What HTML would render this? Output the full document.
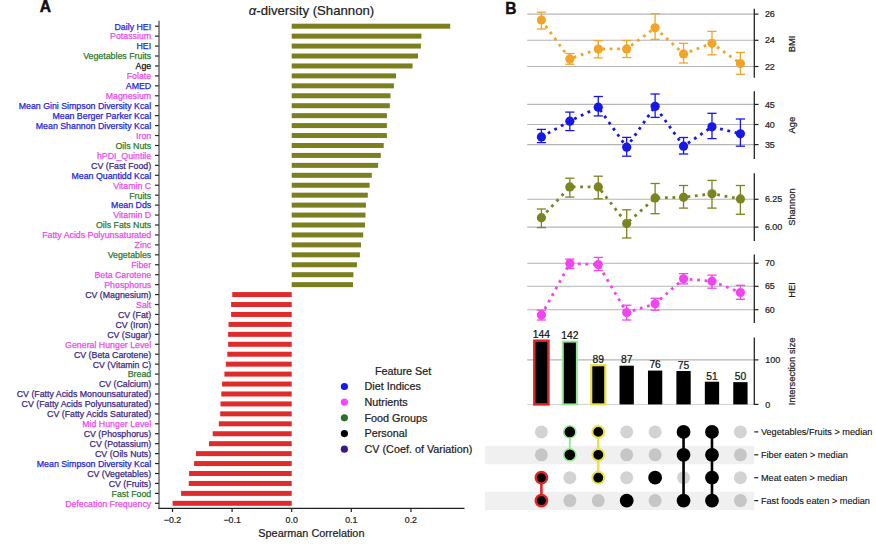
<!DOCTYPE html><html><head><meta charset="utf-8"><style>html,body{margin:0;padding:0;background:#fff;width:876px;height:546px;overflow:hidden}svg{display:block}text{font-family:"Liberation Sans", sans-serif} .lb{stroke-width:0.25px}</style></head><body>
<svg width="876" height="546" viewBox="0 0 876 546">
<text x="39.8" y="11.7" font-size="15.6" font-weight="bold" fill="#111" stroke="#111" stroke-width="0.5">A</text>
<text x="311.5" y="14.6" font-size="13.2" fill="#222" text-anchor="middle" stroke="#222" stroke-width="0.22"><tspan font-style="italic">α</tspan>-diversity (Shannon)</text>
<rect x="291.7" y="23.70" width="158.50" height="5.0" fill="#7b7f1e"/>
<line x1="155" y1="26.20" x2="159" y2="26.20" stroke="#222" stroke-width="1.2"/>
<text class="lb" x="151.2" y="29.55" font-size="8.8" fill="#2626d6" stroke="#2626d6" text-anchor="end">Daily HEI</text>
<rect x="291.7" y="33.64" width="129.70" height="5.0" fill="#7b7f1e"/>
<line x1="155" y1="36.14" x2="159" y2="36.14" stroke="#222" stroke-width="1.2"/>
<text class="lb" x="151.2" y="39.49" font-size="8.8" fill="#e84de8" stroke="#e84de8" text-anchor="end">Potassium</text>
<rect x="291.7" y="43.58" width="129.20" height="5.0" fill="#7b7f1e"/>
<line x1="155" y1="46.08" x2="159" y2="46.08" stroke="#222" stroke-width="1.2"/>
<text class="lb" x="151.2" y="49.43" font-size="8.8" fill="#2626d6" stroke="#2626d6" text-anchor="end">HEI</text>
<rect x="291.7" y="53.52" width="126.30" height="5.0" fill="#7b7f1e"/>
<line x1="155" y1="56.02" x2="159" y2="56.02" stroke="#222" stroke-width="1.2"/>
<text class="lb" x="151.2" y="59.37" font-size="8.8" fill="#2f7a2f" stroke="#2f7a2f" text-anchor="end">Vegetables Fruits</text>
<rect x="291.7" y="63.46" width="120.90" height="5.0" fill="#7b7f1e"/>
<line x1="155" y1="65.96" x2="159" y2="65.96" stroke="#222" stroke-width="1.2"/>
<text class="lb" x="151.2" y="69.31" font-size="8.8" fill="#111111" stroke="#111111" text-anchor="end">Age</text>
<rect x="291.7" y="73.40" width="104.30" height="5.0" fill="#7b7f1e"/>
<line x1="155" y1="75.90" x2="159" y2="75.90" stroke="#222" stroke-width="1.2"/>
<text class="lb" x="151.2" y="79.25" font-size="8.8" fill="#e84de8" stroke="#e84de8" text-anchor="end">Folate</text>
<rect x="291.7" y="83.34" width="102.20" height="5.0" fill="#7b7f1e"/>
<line x1="155" y1="85.84" x2="159" y2="85.84" stroke="#222" stroke-width="1.2"/>
<text class="lb" x="151.2" y="89.19" font-size="8.8" fill="#2626d6" stroke="#2626d6" text-anchor="end">AMED</text>
<rect x="291.7" y="93.28" width="98.80" height="5.0" fill="#7b7f1e"/>
<line x1="155" y1="95.78" x2="159" y2="95.78" stroke="#222" stroke-width="1.2"/>
<text class="lb" x="151.2" y="99.13" font-size="8.8" fill="#e84de8" stroke="#e84de8" text-anchor="end">Magnesium</text>
<rect x="291.7" y="103.22" width="98.10" height="5.0" fill="#7b7f1e"/>
<line x1="155" y1="105.72" x2="159" y2="105.72" stroke="#222" stroke-width="1.2"/>
<text class="lb" x="151.2" y="109.07" font-size="8.8" fill="#2626d6" stroke="#2626d6" text-anchor="end">Mean Gini Simpson Diversity Kcal</text>
<rect x="291.7" y="113.16" width="95.20" height="5.0" fill="#7b7f1e"/>
<line x1="155" y1="115.66" x2="159" y2="115.66" stroke="#222" stroke-width="1.2"/>
<text class="lb" x="151.2" y="119.01" font-size="8.8" fill="#2626d6" stroke="#2626d6" text-anchor="end">Mean Berger Parker Kcal</text>
<rect x="291.7" y="123.10" width="95.20" height="5.0" fill="#7b7f1e"/>
<line x1="155" y1="125.60" x2="159" y2="125.60" stroke="#222" stroke-width="1.2"/>
<text class="lb" x="151.2" y="128.95" font-size="8.8" fill="#2626d6" stroke="#2626d6" text-anchor="end">Mean Shannon Diversity Kcal</text>
<rect x="291.7" y="133.04" width="95.20" height="5.0" fill="#7b7f1e"/>
<line x1="155" y1="135.54" x2="159" y2="135.54" stroke="#222" stroke-width="1.2"/>
<text class="lb" x="151.2" y="138.89" font-size="8.8" fill="#e84de8" stroke="#e84de8" text-anchor="end">Iron</text>
<rect x="291.7" y="142.98" width="92.00" height="5.0" fill="#7b7f1e"/>
<line x1="155" y1="145.48" x2="159" y2="145.48" stroke="#222" stroke-width="1.2"/>
<text class="lb" x="151.2" y="148.83" font-size="8.8" fill="#2f7a2f" stroke="#2f7a2f" text-anchor="end">Oils Nuts</text>
<rect x="291.7" y="152.92" width="89.10" height="5.0" fill="#7b7f1e"/>
<line x1="155" y1="155.42" x2="159" y2="155.42" stroke="#222" stroke-width="1.2"/>
<text class="lb" x="151.2" y="158.77" font-size="8.8" fill="#e84de8" stroke="#e84de8" text-anchor="end">hPDI_Quintile</text>
<rect x="291.7" y="162.86" width="86.40" height="5.0" fill="#7b7f1e"/>
<line x1="155" y1="165.36" x2="159" y2="165.36" stroke="#222" stroke-width="1.2"/>
<text class="lb" x="151.2" y="168.71" font-size="8.8" fill="#3d2a80" stroke="#3d2a80" text-anchor="end">CV (Fast Food)</text>
<rect x="291.7" y="172.80" width="80.10" height="5.0" fill="#7b7f1e"/>
<line x1="155" y1="175.30" x2="159" y2="175.30" stroke="#222" stroke-width="1.2"/>
<text class="lb" x="151.2" y="178.65" font-size="8.8" fill="#2626d6" stroke="#2626d6" text-anchor="end">Mean Quantidd Kcal</text>
<rect x="291.7" y="182.74" width="77.90" height="5.0" fill="#7b7f1e"/>
<line x1="155" y1="185.24" x2="159" y2="185.24" stroke="#222" stroke-width="1.2"/>
<text class="lb" x="151.2" y="188.59" font-size="8.8" fill="#e84de8" stroke="#e84de8" text-anchor="end">Vitamin C</text>
<rect x="291.7" y="192.68" width="76.10" height="5.0" fill="#7b7f1e"/>
<line x1="155" y1="195.18" x2="159" y2="195.18" stroke="#222" stroke-width="1.2"/>
<text class="lb" x="151.2" y="198.53" font-size="8.8" fill="#2f7a2f" stroke="#2f7a2f" text-anchor="end">Fruits</text>
<rect x="291.7" y="202.62" width="74.20" height="5.0" fill="#7b7f1e"/>
<line x1="155" y1="205.12" x2="159" y2="205.12" stroke="#222" stroke-width="1.2"/>
<text class="lb" x="151.2" y="208.47" font-size="8.8" fill="#2626d6" stroke="#2626d6" text-anchor="end">Mean Dds</text>
<rect x="291.7" y="212.56" width="73.80" height="5.0" fill="#7b7f1e"/>
<line x1="155" y1="215.06" x2="159" y2="215.06" stroke="#222" stroke-width="1.2"/>
<text class="lb" x="151.2" y="218.41" font-size="8.8" fill="#e84de8" stroke="#e84de8" text-anchor="end">Vitamin D</text>
<rect x="291.7" y="222.50" width="73.30" height="5.0" fill="#7b7f1e"/>
<line x1="155" y1="225.00" x2="159" y2="225.00" stroke="#222" stroke-width="1.2"/>
<text class="lb" x="151.2" y="228.35" font-size="8.8" fill="#2f7a2f" stroke="#2f7a2f" text-anchor="end">Oils Fats Nuts</text>
<rect x="291.7" y="232.44" width="71.50" height="5.0" fill="#7b7f1e"/>
<line x1="155" y1="234.94" x2="159" y2="234.94" stroke="#222" stroke-width="1.2"/>
<text class="lb" x="151.2" y="238.29" font-size="8.8" fill="#e84de8" stroke="#e84de8" text-anchor="end">Fatty Acids Polyunsaturated</text>
<rect x="291.7" y="242.38" width="69.30" height="5.0" fill="#7b7f1e"/>
<line x1="155" y1="244.88" x2="159" y2="244.88" stroke="#222" stroke-width="1.2"/>
<text class="lb" x="151.2" y="248.23" font-size="8.8" fill="#e84de8" stroke="#e84de8" text-anchor="end">Zinc</text>
<rect x="291.7" y="252.32" width="68.20" height="5.0" fill="#7b7f1e"/>
<line x1="155" y1="254.82" x2="159" y2="254.82" stroke="#222" stroke-width="1.2"/>
<text class="lb" x="151.2" y="258.17" font-size="8.8" fill="#2f7a2f" stroke="#2f7a2f" text-anchor="end">Vegetables</text>
<rect x="291.7" y="262.26" width="65.20" height="5.0" fill="#7b7f1e"/>
<line x1="155" y1="264.76" x2="159" y2="264.76" stroke="#222" stroke-width="1.2"/>
<text class="lb" x="151.2" y="268.11" font-size="8.8" fill="#e84de8" stroke="#e84de8" text-anchor="end">Fiber</text>
<rect x="291.7" y="272.20" width="61.70" height="5.0" fill="#7b7f1e"/>
<line x1="155" y1="274.70" x2="159" y2="274.70" stroke="#222" stroke-width="1.2"/>
<text class="lb" x="151.2" y="278.05" font-size="8.8" fill="#e84de8" stroke="#e84de8" text-anchor="end">Beta Carotene</text>
<rect x="291.7" y="282.14" width="61.30" height="5.0" fill="#7b7f1e"/>
<line x1="155" y1="284.64" x2="159" y2="284.64" stroke="#222" stroke-width="1.2"/>
<text class="lb" x="151.2" y="287.99" font-size="8.8" fill="#e84de8" stroke="#e84de8" text-anchor="end">Phosphorus</text>
<rect x="232.25" y="292.08" width="59.45" height="5.0" fill="#df2b2b"/>
<line x1="155" y1="294.58" x2="159" y2="294.58" stroke="#222" stroke-width="1.2"/>
<text class="lb" x="151.2" y="297.93" font-size="8.8" fill="#3d2a80" stroke="#3d2a80" text-anchor="end">CV (Magnesium)</text>
<rect x="231.1" y="302.02" width="60.60" height="5.0" fill="#df2b2b"/>
<line x1="155" y1="304.52" x2="159" y2="304.52" stroke="#222" stroke-width="1.2"/>
<text class="lb" x="151.2" y="307.87" font-size="8.8" fill="#e84de8" stroke="#e84de8" text-anchor="end">Salt</text>
<rect x="231.1" y="311.96" width="60.60" height="5.0" fill="#df2b2b"/>
<line x1="155" y1="314.46" x2="159" y2="314.46" stroke="#222" stroke-width="1.2"/>
<text class="lb" x="151.2" y="317.81" font-size="8.8" fill="#3d2a80" stroke="#3d2a80" text-anchor="end">CV (Fat)</text>
<rect x="228.5" y="321.90" width="63.20" height="5.0" fill="#df2b2b"/>
<line x1="155" y1="324.40" x2="159" y2="324.40" stroke="#222" stroke-width="1.2"/>
<text class="lb" x="151.2" y="327.75" font-size="8.8" fill="#3d2a80" stroke="#3d2a80" text-anchor="end">CV (Iron)</text>
<rect x="228.1" y="331.84" width="63.60" height="5.0" fill="#df2b2b"/>
<line x1="155" y1="334.34" x2="159" y2="334.34" stroke="#222" stroke-width="1.2"/>
<text class="lb" x="151.2" y="337.69" font-size="8.8" fill="#3d2a80" stroke="#3d2a80" text-anchor="end">CV (Sugar)</text>
<rect x="228.1" y="341.78" width="63.60" height="5.0" fill="#df2b2b"/>
<line x1="155" y1="344.28" x2="159" y2="344.28" stroke="#222" stroke-width="1.2"/>
<text class="lb" x="151.2" y="347.63" font-size="8.8" fill="#e84de8" stroke="#e84de8" text-anchor="end">General Hunger Level</text>
<rect x="227.3" y="351.72" width="64.40" height="5.0" fill="#df2b2b"/>
<line x1="155" y1="354.22" x2="159" y2="354.22" stroke="#222" stroke-width="1.2"/>
<text class="lb" x="151.2" y="357.57" font-size="8.8" fill="#3d2a80" stroke="#3d2a80" text-anchor="end">CV (Beta Carotene)</text>
<rect x="225.8" y="361.66" width="65.90" height="5.0" fill="#df2b2b"/>
<line x1="155" y1="364.16" x2="159" y2="364.16" stroke="#222" stroke-width="1.2"/>
<text class="lb" x="151.2" y="367.51" font-size="8.8" fill="#3d2a80" stroke="#3d2a80" text-anchor="end">CV (Vitamin C)</text>
<rect x="224.4" y="371.60" width="67.30" height="5.0" fill="#df2b2b"/>
<line x1="155" y1="374.10" x2="159" y2="374.10" stroke="#222" stroke-width="1.2"/>
<text class="lb" x="151.2" y="377.45" font-size="8.8" fill="#2f7a2f" stroke="#2f7a2f" text-anchor="end">Bread</text>
<rect x="222.1" y="381.54" width="69.60" height="5.0" fill="#df2b2b"/>
<line x1="155" y1="384.04" x2="159" y2="384.04" stroke="#222" stroke-width="1.2"/>
<text class="lb" x="151.2" y="387.39" font-size="8.8" fill="#3d2a80" stroke="#3d2a80" text-anchor="end">CV (Calcium)</text>
<rect x="221.3" y="391.48" width="70.40" height="5.0" fill="#df2b2b"/>
<line x1="155" y1="393.98" x2="159" y2="393.98" stroke="#222" stroke-width="1.2"/>
<text class="lb" x="151.2" y="397.33" font-size="8.8" fill="#3d2a80" stroke="#3d2a80" text-anchor="end">CV (Fatty Acids Monounsaturated)</text>
<rect x="220.5" y="401.42" width="71.20" height="5.0" fill="#df2b2b"/>
<line x1="155" y1="403.92" x2="159" y2="403.92" stroke="#222" stroke-width="1.2"/>
<text class="lb" x="151.2" y="407.27" font-size="8.8" fill="#3d2a80" stroke="#3d2a80" text-anchor="end">CV (Fatty Acids Polyunsaturated)</text>
<rect x="220.2" y="411.36" width="71.50" height="5.0" fill="#df2b2b"/>
<line x1="155" y1="413.86" x2="159" y2="413.86" stroke="#222" stroke-width="1.2"/>
<text class="lb" x="151.2" y="417.21" font-size="8.8" fill="#3d2a80" stroke="#3d2a80" text-anchor="end">CV (Fatty Acids Saturated)</text>
<rect x="218.8" y="421.30" width="72.90" height="5.0" fill="#df2b2b"/>
<line x1="155" y1="423.80" x2="159" y2="423.80" stroke="#222" stroke-width="1.2"/>
<text class="lb" x="151.2" y="427.15" font-size="8.8" fill="#e84de8" stroke="#e84de8" text-anchor="end">Mid Hunger Level</text>
<rect x="212.7" y="431.24" width="79.00" height="5.0" fill="#df2b2b"/>
<line x1="155" y1="433.74" x2="159" y2="433.74" stroke="#222" stroke-width="1.2"/>
<text class="lb" x="151.2" y="437.09" font-size="8.8" fill="#3d2a80" stroke="#3d2a80" text-anchor="end">CV (Phosphorus)</text>
<rect x="209" y="441.18" width="82.70" height="5.0" fill="#df2b2b"/>
<line x1="155" y1="443.68" x2="159" y2="443.68" stroke="#222" stroke-width="1.2"/>
<text class="lb" x="151.2" y="447.03" font-size="8.8" fill="#3d2a80" stroke="#3d2a80" text-anchor="end">CV (Potassium)</text>
<rect x="196" y="451.12" width="95.70" height="5.0" fill="#df2b2b"/>
<line x1="155" y1="453.62" x2="159" y2="453.62" stroke="#222" stroke-width="1.2"/>
<text class="lb" x="151.2" y="456.97" font-size="8.8" fill="#3d2a80" stroke="#3d2a80" text-anchor="end">CV (Oils Nuts)</text>
<rect x="194.1" y="461.06" width="97.60" height="5.0" fill="#df2b2b"/>
<line x1="155" y1="463.56" x2="159" y2="463.56" stroke="#222" stroke-width="1.2"/>
<text class="lb" x="151.2" y="466.91" font-size="8.8" fill="#2626d6" stroke="#2626d6" text-anchor="end">Mean Simpson Diversity Kcal</text>
<rect x="189.1" y="471.00" width="102.60" height="5.0" fill="#df2b2b"/>
<line x1="155" y1="473.50" x2="159" y2="473.50" stroke="#222" stroke-width="1.2"/>
<text class="lb" x="151.2" y="476.85" font-size="8.8" fill="#3d2a80" stroke="#3d2a80" text-anchor="end">CV (Vegetables)</text>
<rect x="188.8" y="480.94" width="102.90" height="5.0" fill="#df2b2b"/>
<line x1="155" y1="483.44" x2="159" y2="483.44" stroke="#222" stroke-width="1.2"/>
<text class="lb" x="151.2" y="486.79" font-size="8.8" fill="#3d2a80" stroke="#3d2a80" text-anchor="end">CV (Fruits)</text>
<rect x="181.1" y="490.88" width="110.60" height="5.0" fill="#df2b2b"/>
<line x1="155" y1="493.38" x2="159" y2="493.38" stroke="#222" stroke-width="1.2"/>
<text class="lb" x="151.2" y="496.73" font-size="8.8" fill="#2f7a2f" stroke="#2f7a2f" text-anchor="end">Fast Food</text>
<rect x="172.6" y="500.82" width="119.10" height="5.0" fill="#df2b2b"/>
<line x1="155" y1="503.32" x2="159" y2="503.32" stroke="#222" stroke-width="1.2"/>
<text class="lb" x="151.2" y="506.67" font-size="8.8" fill="#e84de8" stroke="#e84de8" text-anchor="end">Defecation Frequency</text>
<line x1="159" y1="20.8" x2="159" y2="508.9" stroke="#333" stroke-width="1.1"/>
<line x1="158.4" y1="508.3" x2="464.5" y2="508.3" stroke="#222" stroke-width="1.3"/>
<line x1="172.50" y1="508.3" x2="172.50" y2="512" stroke="#222" stroke-width="1.2"/>
<text x="172.50" y="522.9" font-size="8.8" fill="#222" text-anchor="middle" stroke="#222" stroke-width="0.22">−0.2</text>
<line x1="232.10" y1="508.3" x2="232.10" y2="512" stroke="#222" stroke-width="1.2"/>
<text x="232.10" y="522.9" font-size="8.8" fill="#222" text-anchor="middle" stroke="#222" stroke-width="0.22">−0.1</text>
<line x1="291.70" y1="508.3" x2="291.70" y2="512" stroke="#222" stroke-width="1.2"/>
<text x="291.70" y="522.9" font-size="8.8" fill="#222" text-anchor="middle" stroke="#222" stroke-width="0.22">0.0</text>
<line x1="351.30" y1="508.3" x2="351.30" y2="512" stroke="#222" stroke-width="1.2"/>
<text x="351.30" y="522.9" font-size="8.8" fill="#222" text-anchor="middle" stroke="#222" stroke-width="0.22">0.1</text>
<line x1="410.90" y1="508.3" x2="410.90" y2="512" stroke="#222" stroke-width="1.2"/>
<text x="410.90" y="522.9" font-size="8.8" fill="#222" text-anchor="middle" stroke="#222" stroke-width="0.22">0.2</text>
<text x="311.4" y="536.9" font-size="10.85" fill="#222" text-anchor="middle" stroke="#222" stroke-width="0.22">Spearman Correlation</text>
<text x="374.9" y="375" font-size="10.8" fill="#222" stroke="#222" stroke-width="0.22">Feature Set</text>
<circle cx="344.4" cy="386.50" r="3.6" fill="#1a1aee"/>
<text x="364.5" y="390.40" font-size="10.8" fill="#222" stroke="#222" stroke-width="0.22">Diet Indices</text>
<circle cx="344.4" cy="402.18" r="3.6" fill="#ff44ff"/>
<text x="364.5" y="406.08" font-size="10.8" fill="#222" stroke="#222" stroke-width="0.22">Nutrients</text>
<circle cx="344.4" cy="417.86" r="3.6" fill="#2e6e2a"/>
<text x="364.5" y="421.76" font-size="10.8" fill="#222" stroke="#222" stroke-width="0.22">Food Groups</text>
<circle cx="344.4" cy="433.54" r="3.6" fill="#000"/>
<text x="364.5" y="437.44" font-size="10.8" fill="#222" stroke="#222" stroke-width="0.22">Personal</text>
<circle cx="344.4" cy="449.22" r="3.6" fill="#3a1a82"/>
<text x="364.5" y="453.12" font-size="10.8" fill="#222" stroke="#222" stroke-width="0.22">CV (Coef. of Variation)</text>
<text x="505.3" y="13.8" font-size="15.6" font-weight="bold" fill="#111" stroke="#111" stroke-width="0.4">B</text>
<line x1="527.2" y1="14.1" x2="754.3" y2="14.1" stroke="#b5b5b5" stroke-width="1.1"/>
<line x1="754.3" y1="14.1" x2="758.5" y2="14.1" stroke="#222" stroke-width="1.2"/>
<text x="764.9" y="17.20" font-size="8.95" fill="#222" stroke="#222" stroke-width="0.22">26</text>
<line x1="527.2" y1="40.3" x2="754.3" y2="40.3" stroke="#b5b5b5" stroke-width="1.1"/>
<line x1="754.3" y1="40.3" x2="758.5" y2="40.3" stroke="#222" stroke-width="1.2"/>
<text x="764.9" y="43.40" font-size="8.95" fill="#222" stroke="#222" stroke-width="0.22">24</text>
<line x1="527.2" y1="66.5" x2="754.3" y2="66.5" stroke="#b5b5b5" stroke-width="1.1"/>
<line x1="754.3" y1="66.5" x2="758.5" y2="66.5" stroke="#222" stroke-width="1.2"/>
<text x="764.9" y="69.60" font-size="8.95" fill="#222" stroke="#222" stroke-width="0.22">22</text>
<line x1="754.3" y1="8.8" x2="754.3" y2="77.7" stroke="#222" stroke-width="1.3"/>
<polyline points="541.40,20.0 569.83,58.9 598.26,49.0 626.69,48.9 655.12,27.8 683.55,53.9 711.98,43.3 740.41,63.6" fill="none" stroke="#f0a52a" stroke-width="2.8" stroke-dasharray="2.8 4.7" stroke-dashoffset="0.3"/>
<line x1="541.40" y1="12.2" x2="541.40" y2="29" stroke="#f0a52a" stroke-width="1.3"/>
<line x1="536.80" y1="12.2" x2="546.00" y2="12.2" stroke="#f0a52a" stroke-width="1.3"/>
<line x1="536.80" y1="29" x2="546.00" y2="29" stroke="#f0a52a" stroke-width="1.3"/>
<circle cx="541.40" cy="20.0" r="4.6" fill="#f0a52a"/>
<line x1="569.83" y1="53.5" x2="569.83" y2="64.2" stroke="#f0a52a" stroke-width="1.3"/>
<line x1="565.23" y1="53.5" x2="574.43" y2="53.5" stroke="#f0a52a" stroke-width="1.3"/>
<line x1="565.23" y1="64.2" x2="574.43" y2="64.2" stroke="#f0a52a" stroke-width="1.3"/>
<circle cx="569.83" cy="58.9" r="4.6" fill="#f0a52a"/>
<line x1="598.26" y1="40.6" x2="598.26" y2="57.9" stroke="#f0a52a" stroke-width="1.3"/>
<line x1="593.66" y1="40.6" x2="602.86" y2="40.6" stroke="#f0a52a" stroke-width="1.3"/>
<line x1="593.66" y1="57.9" x2="602.86" y2="57.9" stroke="#f0a52a" stroke-width="1.3"/>
<circle cx="598.26" cy="49.0" r="4.6" fill="#f0a52a"/>
<line x1="626.69" y1="40.5" x2="626.69" y2="57.5" stroke="#f0a52a" stroke-width="1.3"/>
<line x1="622.09" y1="40.5" x2="631.29" y2="40.5" stroke="#f0a52a" stroke-width="1.3"/>
<line x1="622.09" y1="57.5" x2="631.29" y2="57.5" stroke="#f0a52a" stroke-width="1.3"/>
<circle cx="626.69" cy="48.9" r="4.6" fill="#f0a52a"/>
<line x1="655.12" y1="13.7" x2="655.12" y2="39.3" stroke="#f0a52a" stroke-width="1.3"/>
<line x1="650.52" y1="13.7" x2="659.72" y2="13.7" stroke="#f0a52a" stroke-width="1.3"/>
<line x1="650.52" y1="39.3" x2="659.72" y2="39.3" stroke="#f0a52a" stroke-width="1.3"/>
<circle cx="655.12" cy="27.8" r="4.6" fill="#f0a52a"/>
<line x1="683.55" y1="43.3" x2="683.55" y2="63" stroke="#f0a52a" stroke-width="1.3"/>
<line x1="678.95" y1="43.3" x2="688.15" y2="43.3" stroke="#f0a52a" stroke-width="1.3"/>
<line x1="678.95" y1="63" x2="688.15" y2="63" stroke="#f0a52a" stroke-width="1.3"/>
<circle cx="683.55" cy="53.9" r="4.6" fill="#f0a52a"/>
<line x1="711.98" y1="31.4" x2="711.98" y2="54.8" stroke="#f0a52a" stroke-width="1.3"/>
<line x1="707.38" y1="31.4" x2="716.58" y2="31.4" stroke="#f0a52a" stroke-width="1.3"/>
<line x1="707.38" y1="54.8" x2="716.58" y2="54.8" stroke="#f0a52a" stroke-width="1.3"/>
<circle cx="711.98" cy="43.3" r="4.6" fill="#f0a52a"/>
<line x1="740.41" y1="52.4" x2="740.41" y2="74.3" stroke="#f0a52a" stroke-width="1.3"/>
<line x1="735.81" y1="52.4" x2="745.01" y2="52.4" stroke="#f0a52a" stroke-width="1.3"/>
<line x1="735.81" y1="74.3" x2="745.01" y2="74.3" stroke="#f0a52a" stroke-width="1.3"/>
<circle cx="740.41" cy="63.6" r="4.6" fill="#f0a52a"/>
<text transform="translate(794.5,44) rotate(-90)" font-size="9.4" fill="#222" text-anchor="middle" stroke="#222" stroke-width="0.22">BMI</text>
<line x1="527.2" y1="104.4" x2="754.3" y2="104.4" stroke="#b5b5b5" stroke-width="1.1"/>
<line x1="754.3" y1="104.4" x2="758.5" y2="104.4" stroke="#222" stroke-width="1.2"/>
<text x="764.9" y="107.50" font-size="8.95" fill="#222" stroke="#222" stroke-width="0.22">45</text>
<line x1="527.2" y1="124.5" x2="754.3" y2="124.5" stroke="#b5b5b5" stroke-width="1.1"/>
<line x1="754.3" y1="124.5" x2="758.5" y2="124.5" stroke="#222" stroke-width="1.2"/>
<text x="764.9" y="127.60" font-size="8.95" fill="#222" stroke="#222" stroke-width="0.22">40</text>
<line x1="527.2" y1="144.6" x2="754.3" y2="144.6" stroke="#b5b5b5" stroke-width="1.1"/>
<line x1="754.3" y1="144.6" x2="758.5" y2="144.6" stroke="#222" stroke-width="1.2"/>
<text x="764.9" y="147.70" font-size="8.95" fill="#222" stroke="#222" stroke-width="0.22">35</text>
<line x1="754.3" y1="91.3" x2="754.3" y2="159.1" stroke="#222" stroke-width="1.3"/>
<polyline points="541.40,136.9 569.83,121.2 598.26,107.2 626.69,147.2 655.12,106.3 683.55,146.2 711.98,126.8 740.41,133.8" fill="none" stroke="#1717e6" stroke-width="2.8" stroke-dasharray="2.8 4.7" stroke-dashoffset="0.2"/>
<line x1="541.40" y1="129.4" x2="541.40" y2="142.6" stroke="#1717e6" stroke-width="1.3"/>
<line x1="536.80" y1="129.4" x2="546.00" y2="129.4" stroke="#1717e6" stroke-width="1.3"/>
<line x1="536.80" y1="142.6" x2="546.00" y2="142.6" stroke="#1717e6" stroke-width="1.3"/>
<circle cx="541.40" cy="136.9" r="4.6" fill="#1717e6"/>
<line x1="569.83" y1="112.1" x2="569.83" y2="130.6" stroke="#1717e6" stroke-width="1.3"/>
<line x1="565.23" y1="112.1" x2="574.43" y2="112.1" stroke="#1717e6" stroke-width="1.3"/>
<line x1="565.23" y1="130.6" x2="574.43" y2="130.6" stroke="#1717e6" stroke-width="1.3"/>
<circle cx="569.83" cy="121.2" r="4.6" fill="#1717e6"/>
<line x1="598.26" y1="96.5" x2="598.26" y2="115.9" stroke="#1717e6" stroke-width="1.3"/>
<line x1="593.66" y1="96.5" x2="602.86" y2="96.5" stroke="#1717e6" stroke-width="1.3"/>
<line x1="593.66" y1="115.9" x2="602.86" y2="115.9" stroke="#1717e6" stroke-width="1.3"/>
<circle cx="598.26" cy="107.2" r="4.6" fill="#1717e6"/>
<line x1="626.69" y1="137.4" x2="626.69" y2="156.2" stroke="#1717e6" stroke-width="1.3"/>
<line x1="622.09" y1="137.4" x2="631.29" y2="137.4" stroke="#1717e6" stroke-width="1.3"/>
<line x1="622.09" y1="156.2" x2="631.29" y2="156.2" stroke="#1717e6" stroke-width="1.3"/>
<circle cx="626.69" cy="147.2" r="4.6" fill="#1717e6"/>
<line x1="655.12" y1="94" x2="655.12" y2="117.4" stroke="#1717e6" stroke-width="1.3"/>
<line x1="650.52" y1="94" x2="659.72" y2="94" stroke="#1717e6" stroke-width="1.3"/>
<line x1="650.52" y1="117.4" x2="659.72" y2="117.4" stroke="#1717e6" stroke-width="1.3"/>
<circle cx="655.12" cy="106.3" r="4.6" fill="#1717e6"/>
<line x1="683.55" y1="137.5" x2="683.55" y2="154" stroke="#1717e6" stroke-width="1.3"/>
<line x1="678.95" y1="137.5" x2="688.15" y2="137.5" stroke="#1717e6" stroke-width="1.3"/>
<line x1="678.95" y1="154" x2="688.15" y2="154" stroke="#1717e6" stroke-width="1.3"/>
<circle cx="683.55" cy="146.2" r="4.6" fill="#1717e6"/>
<line x1="711.98" y1="113.3" x2="711.98" y2="138.6" stroke="#1717e6" stroke-width="1.3"/>
<line x1="707.38" y1="113.3" x2="716.58" y2="113.3" stroke="#1717e6" stroke-width="1.3"/>
<line x1="707.38" y1="138.6" x2="716.58" y2="138.6" stroke="#1717e6" stroke-width="1.3"/>
<circle cx="711.98" cy="126.8" r="4.6" fill="#1717e6"/>
<line x1="740.41" y1="119" x2="740.41" y2="146.2" stroke="#1717e6" stroke-width="1.3"/>
<line x1="735.81" y1="119" x2="745.01" y2="119" stroke="#1717e6" stroke-width="1.3"/>
<line x1="735.81" y1="146.2" x2="745.01" y2="146.2" stroke="#1717e6" stroke-width="1.3"/>
<circle cx="740.41" cy="133.8" r="4.6" fill="#1717e6"/>
<text transform="translate(794.5,125.2) rotate(-90)" font-size="9.4" fill="#222" text-anchor="middle" stroke="#222" stroke-width="0.22">Age</text>
<line x1="527.2" y1="199.3" x2="754.3" y2="199.3" stroke="#b5b5b5" stroke-width="1.1"/>
<line x1="754.3" y1="199.3" x2="758.5" y2="199.3" stroke="#222" stroke-width="1.2"/>
<text x="764.9" y="202.40" font-size="8.95" fill="#222" stroke="#222" stroke-width="0.22">6.25</text>
<line x1="527.2" y1="227.1" x2="754.3" y2="227.1" stroke="#b5b5b5" stroke-width="1.1"/>
<line x1="754.3" y1="227.1" x2="758.5" y2="227.1" stroke="#222" stroke-width="1.2"/>
<text x="764.9" y="230.20" font-size="8.95" fill="#222" stroke="#222" stroke-width="0.22">6.00</text>
<line x1="754.3" y1="173.2" x2="754.3" y2="241" stroke="#222" stroke-width="1.3"/>
<polyline points="541.40,217.7 569.83,186.9 598.26,186.9 626.69,223.5 655.12,197.9 683.55,197.3 711.98,193.8 740.41,198.9" fill="none" stroke="#7a8420" stroke-width="2.8" stroke-dasharray="2.8 4.7" stroke-dashoffset="0.2"/>
<line x1="541.40" y1="209" x2="541.40" y2="227.6" stroke="#7a8420" stroke-width="1.3"/>
<line x1="536.80" y1="209" x2="546.00" y2="209" stroke="#7a8420" stroke-width="1.3"/>
<line x1="536.80" y1="227.6" x2="546.00" y2="227.6" stroke="#7a8420" stroke-width="1.3"/>
<circle cx="541.40" cy="217.7" r="4.6" fill="#7a8420"/>
<line x1="569.83" y1="178.2" x2="569.83" y2="197.1" stroke="#7a8420" stroke-width="1.3"/>
<line x1="565.23" y1="178.2" x2="574.43" y2="178.2" stroke="#7a8420" stroke-width="1.3"/>
<line x1="565.23" y1="197.1" x2="574.43" y2="197.1" stroke="#7a8420" stroke-width="1.3"/>
<circle cx="569.83" cy="186.9" r="4.6" fill="#7a8420"/>
<line x1="598.26" y1="176.2" x2="598.26" y2="198.8" stroke="#7a8420" stroke-width="1.3"/>
<line x1="593.66" y1="176.2" x2="602.86" y2="176.2" stroke="#7a8420" stroke-width="1.3"/>
<line x1="593.66" y1="198.8" x2="602.86" y2="198.8" stroke="#7a8420" stroke-width="1.3"/>
<circle cx="598.26" cy="186.9" r="4.6" fill="#7a8420"/>
<line x1="626.69" y1="209.8" x2="626.69" y2="238" stroke="#7a8420" stroke-width="1.3"/>
<line x1="622.09" y1="209.8" x2="631.29" y2="209.8" stroke="#7a8420" stroke-width="1.3"/>
<line x1="622.09" y1="238" x2="631.29" y2="238" stroke="#7a8420" stroke-width="1.3"/>
<circle cx="626.69" cy="223.5" r="4.6" fill="#7a8420"/>
<line x1="655.12" y1="183.5" x2="655.12" y2="213.7" stroke="#7a8420" stroke-width="1.3"/>
<line x1="650.52" y1="183.5" x2="659.72" y2="183.5" stroke="#7a8420" stroke-width="1.3"/>
<line x1="650.52" y1="213.7" x2="659.72" y2="213.7" stroke="#7a8420" stroke-width="1.3"/>
<circle cx="655.12" cy="197.9" r="4.6" fill="#7a8420"/>
<line x1="683.55" y1="185.5" x2="683.55" y2="208.1" stroke="#7a8420" stroke-width="1.3"/>
<line x1="678.95" y1="185.5" x2="688.15" y2="185.5" stroke="#7a8420" stroke-width="1.3"/>
<line x1="678.95" y1="208.1" x2="688.15" y2="208.1" stroke="#7a8420" stroke-width="1.3"/>
<circle cx="683.55" cy="197.3" r="4.6" fill="#7a8420"/>
<line x1="711.98" y1="180.4" x2="711.98" y2="208.1" stroke="#7a8420" stroke-width="1.3"/>
<line x1="707.38" y1="180.4" x2="716.58" y2="180.4" stroke="#7a8420" stroke-width="1.3"/>
<line x1="707.38" y1="208.1" x2="716.58" y2="208.1" stroke="#7a8420" stroke-width="1.3"/>
<circle cx="711.98" cy="193.8" r="4.6" fill="#7a8420"/>
<line x1="740.41" y1="185.5" x2="740.41" y2="214.3" stroke="#7a8420" stroke-width="1.3"/>
<line x1="735.81" y1="185.5" x2="745.01" y2="185.5" stroke="#7a8420" stroke-width="1.3"/>
<line x1="735.81" y1="214.3" x2="745.01" y2="214.3" stroke="#7a8420" stroke-width="1.3"/>
<circle cx="740.41" cy="198.9" r="4.6" fill="#7a8420"/>
<text transform="translate(794.5,207.1) rotate(-90)" font-size="9.4" fill="#222" text-anchor="middle" stroke="#222" stroke-width="0.22">Shannon</text>
<line x1="527.2" y1="263.2" x2="754.3" y2="263.2" stroke="#b5b5b5" stroke-width="1.1"/>
<line x1="754.3" y1="263.2" x2="758.5" y2="263.2" stroke="#222" stroke-width="1.2"/>
<text x="764.9" y="266.30" font-size="8.95" fill="#222" stroke="#222" stroke-width="0.22">70</text>
<line x1="527.2" y1="286.3" x2="754.3" y2="286.3" stroke="#b5b5b5" stroke-width="1.1"/>
<line x1="754.3" y1="286.3" x2="758.5" y2="286.3" stroke="#222" stroke-width="1.2"/>
<text x="764.9" y="289.40" font-size="8.95" fill="#222" stroke="#222" stroke-width="0.22">65</text>
<line x1="527.2" y1="309.7" x2="754.3" y2="309.7" stroke="#b5b5b5" stroke-width="1.1"/>
<line x1="754.3" y1="309.7" x2="758.5" y2="309.7" stroke="#222" stroke-width="1.2"/>
<text x="764.9" y="312.80" font-size="8.95" fill="#222" stroke="#222" stroke-width="0.22">60</text>
<line x1="754.3" y1="254.5" x2="754.3" y2="322.9" stroke="#222" stroke-width="1.3"/>
<polyline points="541.40,315.1 569.83,263.5 598.26,264.5 626.69,312.6 655.12,303.8 683.55,278.8 711.98,281.2 740.41,292.5" fill="none" stroke="#f044f0" stroke-width="2.8" stroke-dasharray="2.8 4.7" stroke-dashoffset="0.5"/>
<line x1="541.40" y1="310.2" x2="541.40" y2="320" stroke="#f044f0" stroke-width="1.3"/>
<line x1="536.80" y1="310.2" x2="546.00" y2="310.2" stroke="#f044f0" stroke-width="1.3"/>
<line x1="536.80" y1="320" x2="546.00" y2="320" stroke="#f044f0" stroke-width="1.3"/>
<circle cx="541.40" cy="315.1" r="4.6" fill="#f044f0"/>
<line x1="569.83" y1="259.1" x2="569.83" y2="268.5" stroke="#f044f0" stroke-width="1.3"/>
<line x1="565.23" y1="259.1" x2="574.43" y2="259.1" stroke="#f044f0" stroke-width="1.3"/>
<line x1="565.23" y1="268.5" x2="574.43" y2="268.5" stroke="#f044f0" stroke-width="1.3"/>
<circle cx="569.83" cy="263.5" r="4.6" fill="#f044f0"/>
<line x1="598.26" y1="257.4" x2="598.26" y2="270.6" stroke="#f044f0" stroke-width="1.3"/>
<line x1="593.66" y1="257.4" x2="602.86" y2="257.4" stroke="#f044f0" stroke-width="1.3"/>
<line x1="593.66" y1="270.6" x2="602.86" y2="270.6" stroke="#f044f0" stroke-width="1.3"/>
<circle cx="598.26" cy="264.5" r="4.6" fill="#f044f0"/>
<line x1="626.69" y1="305.2" x2="626.69" y2="320" stroke="#f044f0" stroke-width="1.3"/>
<line x1="622.09" y1="305.2" x2="631.29" y2="305.2" stroke="#f044f0" stroke-width="1.3"/>
<line x1="622.09" y1="320" x2="631.29" y2="320" stroke="#f044f0" stroke-width="1.3"/>
<circle cx="626.69" cy="312.6" r="4.6" fill="#f044f0"/>
<line x1="655.12" y1="298.3" x2="655.12" y2="310.2" stroke="#f044f0" stroke-width="1.3"/>
<line x1="650.52" y1="298.3" x2="659.72" y2="298.3" stroke="#f044f0" stroke-width="1.3"/>
<line x1="650.52" y1="310.2" x2="659.72" y2="310.2" stroke="#f044f0" stroke-width="1.3"/>
<circle cx="655.12" cy="303.8" r="4.6" fill="#f044f0"/>
<line x1="683.55" y1="273.6" x2="683.55" y2="283.9" stroke="#f044f0" stroke-width="1.3"/>
<line x1="678.95" y1="273.6" x2="688.15" y2="273.6" stroke="#f044f0" stroke-width="1.3"/>
<line x1="678.95" y1="283.9" x2="688.15" y2="283.9" stroke="#f044f0" stroke-width="1.3"/>
<circle cx="683.55" cy="278.8" r="4.6" fill="#f044f0"/>
<line x1="711.98" y1="275.1" x2="711.98" y2="288.2" stroke="#f044f0" stroke-width="1.3"/>
<line x1="707.38" y1="275.1" x2="716.58" y2="275.1" stroke="#f044f0" stroke-width="1.3"/>
<line x1="707.38" y1="288.2" x2="716.58" y2="288.2" stroke="#f044f0" stroke-width="1.3"/>
<circle cx="711.98" cy="281.2" r="4.6" fill="#f044f0"/>
<line x1="740.41" y1="285.3" x2="740.41" y2="299.3" stroke="#f044f0" stroke-width="1.3"/>
<line x1="735.81" y1="285.3" x2="745.01" y2="285.3" stroke="#f044f0" stroke-width="1.3"/>
<line x1="735.81" y1="299.3" x2="745.01" y2="299.3" stroke="#f044f0" stroke-width="1.3"/>
<circle cx="740.41" cy="292.5" r="4.6" fill="#f044f0"/>
<text transform="translate(794.5,290) rotate(-90)" font-size="9.4" fill="#222" text-anchor="middle" stroke="#222" stroke-width="0.22">HEI</text>
<line x1="527.2" y1="359.90" x2="754.3" y2="359.90" stroke="#b5b5b5" stroke-width="1.1"/>
<line x1="527.2" y1="404.4" x2="754.3" y2="404.4" stroke="#d0d0d0" stroke-width="1"/>
<line x1="754.3" y1="404.40" x2="758.5" y2="404.40" stroke="#222" stroke-width="1.2"/>
<text x="765.2" y="407.50" font-size="8.95" fill="#222" stroke="#222" stroke-width="0.22">0</text>
<line x1="754.3" y1="359.90" x2="758.5" y2="359.90" stroke="#222" stroke-width="1.2"/>
<text x="765.2" y="363.00" font-size="8.95" fill="#222" stroke="#222" stroke-width="0.22">100</text>
<line x1="754.3" y1="337.5" x2="754.3" y2="404.9" stroke="#222" stroke-width="1.3"/>
<text transform="translate(794.5,371.3) rotate(-90)" font-size="9.4" fill="#222" text-anchor="middle" stroke="#222" stroke-width="0.22">Intersection size</text>
<rect x="534.35" y="340.72" width="14.10" height="63.68" fill="#000" stroke="#e02525" stroke-width="2.5"/>
<text x="541.40" y="338.12" font-size="10.3" fill="#111" text-anchor="middle" stroke="#111" stroke-width="0.22">144</text>
<rect x="562.78" y="341.61" width="14.10" height="62.79" fill="#000" stroke="#96ea96" stroke-width="2.0"/>
<text x="569.83" y="339.01" font-size="10.3" fill="#111" text-anchor="middle" stroke="#111" stroke-width="0.22">142</text>
<rect x="591.21" y="365.19" width="14.10" height="39.21" fill="#000" stroke="#ebe048" stroke-width="2.2"/>
<text x="598.26" y="362.59" font-size="10.3" fill="#111" text-anchor="middle" stroke="#111" stroke-width="0.22">89</text>
<rect x="619.54" y="365.68" width="14.3" height="38.72" fill="#000"/>
<text x="626.69" y="363.48" font-size="10.3" fill="#111" text-anchor="middle" stroke="#111" stroke-width="0.22">87</text>
<rect x="647.97" y="370.58" width="14.3" height="33.82" fill="#000"/>
<text x="655.12" y="368.38" font-size="10.3" fill="#111" text-anchor="middle" stroke="#111" stroke-width="0.22">76</text>
<rect x="676.40" y="371.02" width="14.3" height="33.38" fill="#000"/>
<text x="683.55" y="368.82" font-size="10.3" fill="#111" text-anchor="middle" stroke="#111" stroke-width="0.22">75</text>
<rect x="704.83" y="381.70" width="14.3" height="22.69" fill="#000"/>
<text x="711.98" y="379.50" font-size="10.3" fill="#111" text-anchor="middle" stroke="#111" stroke-width="0.22">51</text>
<rect x="733.26" y="382.15" width="14.3" height="22.25" fill="#000"/>
<text x="740.41" y="379.95" font-size="10.3" fill="#111" text-anchor="middle" stroke="#111" stroke-width="0.22">50</text>
<rect x="485" y="445.90" width="269.30" height="18.3" fill="#f0f0f0"/>
<rect x="485" y="491.70" width="269.30" height="18.3" fill="#f0f0f0"/>
<line x1="754.3" y1="431.9" x2="758.3" y2="431.9" stroke="#222" stroke-width="1.2"/>
<text x="760.9" y="435.20" font-size="9.2" fill="#111" stroke="#111" stroke-width="0.12">Vegetables/Fruits &gt; median</text>
<line x1="754.3" y1="454.8" x2="758.3" y2="454.8" stroke="#222" stroke-width="1.2"/>
<text x="760.9" y="458.10" font-size="9.2" fill="#111" stroke="#111" stroke-width="0.12">Fiber eaten &gt; median</text>
<line x1="754.3" y1="477.7" x2="758.3" y2="477.7" stroke="#222" stroke-width="1.2"/>
<text x="760.9" y="481.00" font-size="9.2" fill="#111" stroke="#111" stroke-width="0.12">Meat eaten &gt; median</text>
<line x1="754.3" y1="500.6" x2="758.3" y2="500.6" stroke="#222" stroke-width="1.2"/>
<text x="760.9" y="503.90" font-size="9.2" fill="#111" stroke="#111" stroke-width="0.12">Fast foods eaten &gt; median</text>
<circle cx="541.40" cy="431.9" r="6.5" fill="#d3d3d3"/>
<circle cx="541.40" cy="454.8" r="6.5" fill="#c6c6c6"/>
<line x1="541.40" y1="477.7" x2="541.40" y2="500.6" stroke="#e02525" stroke-width="2.6"/>
<circle cx="541.40" cy="477.7" r="5.70" fill="#000" stroke="#e02525" stroke-width="2.4"/>
<circle cx="541.40" cy="500.6" r="5.70" fill="#000" stroke="#e02525" stroke-width="2.4"/>
<circle cx="569.83" cy="477.7" r="6.5" fill="#d3d3d3"/>
<circle cx="569.83" cy="500.6" r="6.5" fill="#c6c6c6"/>
<line x1="569.83" y1="431.9" x2="569.83" y2="454.8" stroke="#96ea96" stroke-width="2.0"/>
<circle cx="569.83" cy="431.9" r="6.10" fill="#000" stroke="#96ea96" stroke-width="1.6"/>
<circle cx="569.83" cy="454.8" r="6.10" fill="#000" stroke="#96ea96" stroke-width="1.6"/>
<circle cx="598.26" cy="500.6" r="6.5" fill="#c6c6c6"/>
<line x1="598.26" y1="431.9" x2="598.26" y2="477.7" stroke="#ebe048" stroke-width="2.4"/>
<circle cx="598.26" cy="431.9" r="5.90" fill="#000" stroke="#ebe048" stroke-width="2.0"/>
<circle cx="598.26" cy="454.8" r="5.90" fill="#000" stroke="#ebe048" stroke-width="2.0"/>
<circle cx="598.26" cy="477.7" r="5.90" fill="#000" stroke="#ebe048" stroke-width="2.0"/>
<circle cx="626.69" cy="431.9" r="6.5" fill="#d3d3d3"/>
<circle cx="626.69" cy="454.8" r="6.5" fill="#c6c6c6"/>
<circle cx="626.69" cy="477.7" r="6.5" fill="#d3d3d3"/>
<circle cx="626.69" cy="500.6" r="6.9" fill="#000"/>
<circle cx="655.12" cy="431.9" r="6.5" fill="#d3d3d3"/>
<circle cx="655.12" cy="454.8" r="6.5" fill="#c6c6c6"/>
<circle cx="655.12" cy="500.6" r="6.5" fill="#c6c6c6"/>
<circle cx="655.12" cy="477.7" r="6.9" fill="#000"/>
<circle cx="683.55" cy="477.7" r="6.5" fill="#d3d3d3"/>
<line x1="683.55" y1="431.9" x2="683.55" y2="500.6" stroke="#000" stroke-width="2.6"/>
<circle cx="683.55" cy="431.9" r="6.9" fill="#000"/>
<circle cx="683.55" cy="454.8" r="6.9" fill="#000"/>
<circle cx="683.55" cy="500.6" r="6.9" fill="#000"/>
<line x1="711.98" y1="431.9" x2="711.98" y2="500.6" stroke="#000" stroke-width="2.6"/>
<circle cx="711.98" cy="431.9" r="6.9" fill="#000"/>
<circle cx="711.98" cy="454.8" r="6.9" fill="#000"/>
<circle cx="711.98" cy="477.7" r="6.9" fill="#000"/>
<circle cx="711.98" cy="500.6" r="6.9" fill="#000"/>
<circle cx="740.41" cy="431.9" r="6.5" fill="#d3d3d3"/>
<circle cx="740.41" cy="454.8" r="6.5" fill="#c6c6c6"/>
<circle cx="740.41" cy="477.7" r="6.5" fill="#d3d3d3"/>
<circle cx="740.41" cy="500.6" r="6.5" fill="#c6c6c6"/>
</svg></body></html>
